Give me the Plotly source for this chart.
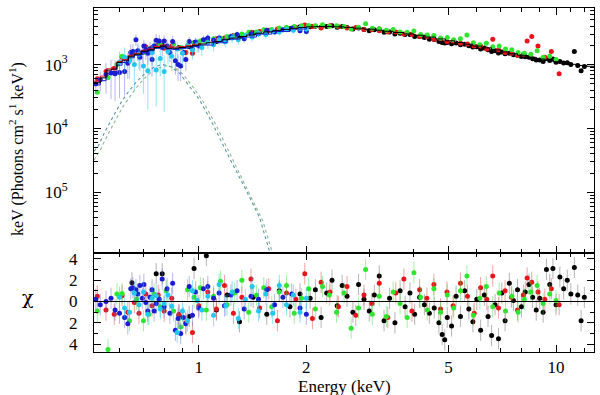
import plotly.graph_objects as go
from plotly.subplots import make_subplots

# Data (energies in keV, fluxes in units of 1e-3 photons cm^-2 s^-1 keV^-1) ########

black_E = [0.65, 0.76, 0.79, 0.88, 0.94, 0.97, 1.05, 1.12, 1.2, 1.3, 1.42, 1.55, 1.68, 1.8, 1.92,
           2.05, 2.12, 2.2, 2.28, 2.36, 2.44, 2.52, 2.6, 2.7, 2.8, 2.9,
           3.0, 3.1, 3.2, 3.3, 3.42, 3.54, 3.66, 3.78, 3.9,
           4.02, 4.15, 4.28, 4.42, 4.56, 4.7, 4.8, 4.88, 4.96,
           5.1, 5.25, 5.4, 5.55, 5.7, 5.85,
           6.0, 6.15, 6.3, 6.45, 6.6, 6.75, 6.9,
           7.05, 7.2, 7.4, 7.6, 7.8,
           8.0, 8.2, 8.4, 8.6, 8.8,
           9.0, 9.2, 9.4, 9.6, 9.8,
           10.0, 10.25, 10.5, 10.75, 11.0, 11.25, 11.5, 11.75, 12.0]
black_F = [1.50, 1.95, 2.00, 1.85, 1.90, 2.20, 2.45, 2.30, 2.65, 2.70, 3.15, 3.25, 3.60, 3.65, 3.90,
           3.90, 4.00, 3.85, 3.95, 4.05, 3.85, 3.95, 3.80, 3.60, 3.75, 3.55,
           3.40, 3.50, 3.60, 3.20, 3.25, 3.00, 3.10, 2.95, 2.95,
           2.75, 2.75, 2.65, 2.50, 2.48, 2.30, 2.22, 2.18, 2.22,
           2.12, 2.17, 2.05, 2.08, 1.98, 1.88,
           1.90, 1.75, 1.82, 1.70, 1.60, 1.64, 1.52,
           1.58, 1.48, 1.50, 1.42, 1.40,
           1.34, 1.33, 1.30, 1.23, 1.18,
           1.18, 1.12, 1.25, 1.16, 1.22,
           1.09, 1.12, 1.06, 1.07, 1.00, 1.60, 0.97, 0.80, 0.93]
black_chi = [1.75, 2.6, 2.6, -1.3, -1.4, 3.1, 4.3, -0.8, 0.6, -1.9, 0.4, -1.2, 1.0, -0.5, 0.7,
             0.3, 1.1, -1.5, 0.8, 2.0, -0.4, 1.5, 0.5, -1.0, 1.6, 0.2,
             -0.9, 0.6, 2.4, -1.8, 0.3, -2.0, 1.0, -0.5, 0.8,
             -1.2, 0.4, -0.3, -1.1, -0.6, -2.0, -3.1, -3.6, -1.5,
             -2.3, 0.5, -1.4, 1.0, -0.7, -1.9,
             0.2, -2.7, 0.6, -1.4, -3.2, -0.3, -3.5,
             0.8, -1.8, 1.7, 0.1, 1.1,
             -0.5, 0.9, 1.6, 0.4, -0.8,
             0.3, -1.0, 3.0, 1.6, 3.1,
             -0.3, 2.3, 1.2, 2.0, 0.7, 3.2, 0.6, -1.8, 0.4]

red_E = [0.52, 0.55, 0.58, 0.61, 0.633, 0.66, 0.68, 0.711, 0.74, 0.77,
         0.80, 0.84, 0.88, 0.92, 0.96, 1.0, 1.06, 1.12, 1.18, 1.25,
         1.32, 1.4, 1.48, 1.57, 1.66, 1.76, 1.87, 1.98, 2.08, 2.2,
         2.33, 2.46, 2.6, 2.75, 2.9, 3.05, 3.2, 3.38, 3.56, 3.75,
         3.95, 4.15, 4.35, 4.55, 4.75, 4.95, 5.15, 5.4, 5.65, 5.9,
         6.15, 6.4, 6.65, 6.9, 7.2, 7.5, 7.8, 8.1, 8.3, 8.55,
         8.9, 9.3, 9.7, 10.2]
red_F = [0.60, 0.78, 0.88, 1.30, 1.25, 1.55, 1.50, 1.90, 1.85, 2.00,
         1.80, 1.95, 1.80, 1.55, 1.50, 2.20, 2.30, 2.55, 2.60, 2.85,
         2.95, 3.20, 3.30, 3.45, 3.60, 3.75, 3.85, 4.15, 3.95, 3.75,
         4.05, 3.90, 3.75, 3.80, 3.55, 3.55, 3.40, 3.25, 3.25, 3.00,
         2.95, 2.75, 2.75, 2.50, 2.55, 2.30, 2.35, 2.15, 2.10, 1.95,
         1.95, 1.75, 2.50, 1.70, 1.55, 1.50, 1.40, 1.45, 2.35, 2.75,
         1.95, 1.30, 1.60, 0.72]
red_chi = [0.5, -0.8, -1.2, 0.55, -1.0, -0.1, -1.1, 0.7, -0.4, 0.6,
           -0.9, 0.3, -1.2, -2.0, -2.9, -0.4, 0.9, -0.7, 1.5, -1.1,
           0.4, 2.1, -0.6, 1.2, -1.8, 0.8, 0.2, 2.6, -1.6, 1.8,
           0.9, -0.5, 1.4, -1.3, 0.6, -0.2, 1.7, -1.5, 0.8, 2.1,
           -0.9, 1.1, 0.3, 1.6, -0.7, 0.9, -0.4, 1.7, 0.5, -1.1,
           1.3, 0.2, 2.4, -0.6, 1.0, 0.4, -0.8, 0.6, 2.2, 1.8,
           0.9, 0.2, 1.2, -0.3]

green_E = [0.52, 0.557, 0.59, 0.61, 0.64, 0.67, 0.70, 0.725, 0.75, 0.78,
           0.81, 0.85, 0.89, 0.93, 0.97, 1.01, 1.05, 1.1, 1.15, 1.2,
           1.26, 1.32, 1.38, 1.45, 1.52, 1.6, 1.68, 1.76, 1.85, 1.94,
           2.03, 2.12, 2.22, 2.32, 2.43, 2.55, 2.67, 2.8, 2.93, 3.06,
           3.2, 3.35, 3.5, 3.66, 3.83, 4.0, 4.18, 4.36, 4.55, 4.75,
           4.96, 5.17, 5.4, 5.63, 5.87, 6.12, 6.38, 6.65, 6.93, 7.22,
           7.52, 7.83, 8.15, 8.5, 8.85, 9.2, 9.6, 10.0]
green_F = [0.37, 0.62, 1.00, 1.35, 1.30, 1.60, 1.55, 1.75, 1.95, 2.05,
           1.90, 2.10, 1.85, 2.00, 2.15, 2.35, 2.30, 2.55, 2.60, 2.75,
           2.85, 3.00, 3.20, 3.25, 3.50, 3.55, 3.75, 3.85, 3.95, 4.05,
           4.10, 4.05, 4.20, 4.00, 4.05, 3.95, 3.60, 3.85, 4.35, 3.70,
           3.65, 3.45, 3.55, 3.25, 3.20, 3.35, 2.95, 2.90, 2.85, 2.60,
           2.65, 2.45, 2.55, 2.90, 2.20, 2.05, 2.15, 1.90, 1.95, 1.75,
           1.70, 1.55, 1.50, 1.45, 1.65, 1.30, 1.35, 1.20]
green_chi = [-0.9, -4.5, 0.7, 0.75, -1.8, 0.2, -1.8, -1.2, 0.7, -0.5,
             1.0, -0.9, -2.4, 1.1, 0.4, 1.3, -0.8, 0.5, 1.9, -0.3,
             0.8, 2.0, -1.0, 0.6, 1.3, -0.5, 0.9, 1.5, -1.1, 0.3,
             1.2, -0.7, 1.4, 0.6, -1.0, 0.8, -2.5, -0.6, 3.0, -1.2,
             0.5, -1.4, 0.9, -0.2, -1.5, 2.7, 0.4, -0.8, 1.2, -1.0,
             0.6, -0.6, 1.0, 2.4, -1.3, 0.3, 1.4, -0.5, 0.8, -0.9,
             0.5, -1.0, 0.2, 0.9, 1.5, -0.2, 0.7, 0.1]

blue_E = [0.515, 0.53, 0.55, 0.568, 0.583, 0.60, 0.62, 0.633, 0.645, 0.654,
          0.667, 0.675, 0.684, 0.695, 0.702, 0.711, 0.72, 0.73, 0.74, 0.75,
          0.76, 0.775, 0.79, 0.80, 0.815, 0.83, 0.845, 0.86, 0.875, 0.89,
          0.905, 0.92, 0.94, 0.96, 0.98, 1.0, 1.03, 1.06, 1.1, 1.14,
          1.18, 1.23, 1.28, 1.34, 1.4, 1.47, 1.55, 1.63, 1.72, 1.82,
          1.92, 2.0]
blue_F = [0.50, 0.58, 0.70, 0.74, 0.72, 0.75, 0.78, 1.05, 1.55, 1.60,
          2.45, 1.65, 1.30, 1.55, 1.95, 1.70, 1.50, 1.75, 1.20, 1.95,
          2.40, 2.35, 1.85, 2.35, 1.95, 1.55, 2.30, 1.15, 1.00, 0.95,
          1.55, 1.20, 2.30, 1.75, 2.25, 1.95, 2.45, 2.60, 2.40, 2.60,
          2.35, 2.75, 2.95, 2.55, 3.05, 3.05, 3.45, 3.25, 3.50, 3.70,
          3.40, 3.30]
blue_chi = [0.2, -0.3, 0.0, 0.3, -0.8, -1.1, -1.5, -2.1, 1.2, 1.3,
            1.1, 0.7, 1.5, 0.3, 1.6, -0.1, -0.9, 0.4, 1.1, -0.9,
            -0.2, 0.2, 2.1, -0.5, 1.2, -1.1, 1.7, -2.7, -1.6, -3.0,
            -1.5, -2.1, 1.4, -1.3, 0.9, -0.6, 1.2, 1.4, 0.3, 0.8,
            -0.4, 0.6, 1.0, -0.7, 0.5, 0.2, 1.1, -0.3, 0.4, 0.7,
            -0.6, -1.2]
blue_err = [0.15, 0.2, 0.35, 0.45, 0.45, 0.45, 0.45, 0.45, 0.5, 0.5,
            0.5, 0.5, 0.5, 0.5, 0.5, 0.5, 0.5, 0.5, 0.55, 0.55,
            0.6, 0.55, 0.5, 0.5, 0.5, 0.45, 0.5, 0.45, 0.45, 0.4,
            0.45, 0.4, 0.45, 0.4, 0.4, 0.4, 0.4, 0.4, 0.35, 0.35,
            0.35, 0.35, 0.35, 0.35, 0.35, 0.35, 0.35, 0.35, 0.35, 0.35,
            0.35, 0.35]

cyan_E = [0.60, 0.62, 0.64, 0.66, 0.68, 0.70, 0.72, 0.74, 0.76, 0.78,
          0.80, 0.82, 0.84, 0.87, 0.90, 0.93, 0.96, 0.99, 1.02, 1.06,
          1.10, 1.14, 1.19, 1.24, 1.29, 1.35, 1.41, 1.47, 1.54, 1.61,
          1.68, 1.76, 1.84, 1.92, 2.0]
cyan_F = [1.10, 1.30, 1.15, 1.00, 1.45, 0.95, 0.80, 1.55, 0.82, 1.25,
          0.78, 1.60, 1.35, 1.75, 1.50, 1.95, 1.70, 2.05, 1.85, 2.20,
          2.05, 2.45, 2.30, 2.60, 2.45, 2.85, 2.70, 3.10, 2.95, 3.35,
          3.25, 3.55, 3.45, 3.70, 3.60]
cyan_chi = [0.4, -0.6, -1.0, 0.8, -0.3, 0.9, -1.2, 0.3, 0.55, -0.7,
            -0.2, 0.6, -0.45, -2.9, -0.9, -1.8, 1.0, 0.1, -0.8, 0.5,
            -1.3, 1.6, -0.4, 0.9, -1.6, 0.2, 1.4, -0.9, 0.7, -1.1,
            1.5, -0.3, 0.6, -1.0, 0.3]
cyan_err = [0.5, 0.55, 0.55, 0.6, 0.6, 0.6, 0.6, 0.6, 0.6, 0.6,
            0.6, 0.6, 0.55, 0.55, 0.55, 0.5, 0.5, 0.5, 0.5, 0.45,
            0.45, 0.45, 0.45, 0.4, 0.4, 0.4, 0.4, 0.4, 0.4, 0.4,
            0.4, 0.4, 0.4, 0.4, 0.4]

# total model (step histogram)
model_E = [0.509, 0.53, 0.55, 0.57, 0.59, 0.61, 0.635, 0.66, 0.69, 0.72, 0.75, 0.78, 0.81,
           0.845, 0.88, 0.92, 0.96, 1.0, 1.05, 1.1, 1.16, 1.22, 1.29, 1.36, 1.44, 1.52,
           1.61, 1.7, 1.8, 1.9, 2.0, 2.12, 2.25, 2.4, 2.55, 2.7, 2.9, 3.1, 3.3, 3.5, 3.75,
           4.0, 4.3, 4.6, 4.9, 5.2, 5.5, 5.85, 6.2, 6.6, 7.0, 7.4, 7.8, 8.3, 8.8, 9.3, 9.8,
           10.4, 11.0, 11.6, 12.2, 12.77]
model_F = [0.52, 0.62, 0.82, 0.85, 1.08, 1.15, 1.35, 1.45, 1.62, 1.70, 1.85, 1.95, 1.80,
           1.80, 1.85, 1.90, 2.00, 2.10, 2.20, 2.30, 2.45, 2.60, 2.75, 2.90, 3.10, 3.25,
           3.40, 3.55, 3.70, 3.80, 3.90, 3.95, 3.95, 3.90, 3.82, 3.72, 3.58, 3.45, 3.32, 3.18, 3.02,
           2.88, 2.70, 2.52, 2.36, 2.22, 2.08, 1.95, 1.83, 1.70, 1.58, 1.48, 1.40, 1.30, 1.22, 1.16, 1.11,
           1.06, 1.01, 0.97, 0.94, 0.92]
blue_model_E = [0.509, 0.53, 0.55, 0.57, 0.59, 0.61, 0.635, 0.66, 0.69, 0.72, 0.75, 0.78, 0.81,
                0.845, 0.88, 0.92, 0.96, 1.0, 1.1, 1.2, 1.3, 1.45, 1.6, 1.8, 2.0]
blue_model_F = [0.48, 0.56, 0.72, 0.78, 0.98, 1.08, 1.28, 1.40, 1.55, 1.65, 1.80, 1.90, 1.75,
                1.72, 1.78, 1.82, 1.92, 2.02, 2.20, 2.50, 2.70, 3.00, 3.30, 3.60, 3.80]
red_model_E = [0.509, 0.53, 0.55, 0.57, 0.59, 0.61, 0.635, 0.66, 0.69, 0.72, 0.75, 0.78, 0.81,
               0.845, 0.88, 0.92, 0.96, 1.0]
red_model_F = [0.55, 0.66, 0.86, 0.90, 1.12, 1.20, 1.40, 1.50, 1.68, 1.76, 1.92, 2.02, 1.88,
               1.88, 1.92, 1.98, 2.08, 2.18]

# soft components (dotted)
comp1_E = [0.509, 0.522, 0.546, 0.571, 0.602, 0.634, 0.671, 0.711, 0.754, 0.793,
           0.835, 0.885, 0.944, 1.006, 1.094, 1.22, 1.36, 1.48, 1.58, 1.70]
comp1_F = [0.044, 0.052, 0.089, 0.141, 0.241, 0.369, 0.546, 0.75, 0.93, 1.0,
           0.93, 0.726, 0.457, 0.278, 0.118, 0.034, 0.0105, 0.004, 0.00116, 0.0003]
comp2_E = [0.509, 0.53, 0.555, 0.58, 0.61, 0.645, 0.68, 0.72, 0.765, 0.81,
           0.855, 0.905, 0.965, 1.03, 1.12, 1.25, 1.39, 1.51, 1.61, 1.72]
comp2_F = [0.032, 0.046, 0.078, 0.125, 0.21, 0.33, 0.49, 0.69, 0.87, 0.96,
           0.90, 0.70, 0.44, 0.26, 0.11, 0.031, 0.0095, 0.0036, 0.0011, 0.0003]

SCALE = 1e-3

fig = make_subplots(rows=2, cols=1, shared_xaxes=True, vertical_spacing=0,
                    row_heights=[0.711, 0.289])

def sc(vals):
    return [v * SCALE for v in vals]

# dotted components
fig.add_trace(go.Scatter(x=comp1_E, y=sc(comp1_F), mode='lines',
                         line=dict(color='#5b95b0', width=1.1, dash='dot')), row=1, col=1)
fig.add_trace(go.Scatter(x=comp2_E, y=sc(comp2_F), mode='lines',
                         line=dict(color='#8fb88f', width=1.1, dash='dot')), row=1, col=1)

series = [
    (black_E, black_F, black_chi, '#000000', 'rgba(120,120,120,0.55)', dict(type='percent', value=4)),
    (red_E, red_F, red_chi, '#e8141c', 'rgba(232,20,28,0.4)', dict(type='percent', value=7)),
    (green_E, green_F, green_chi, '#2ee62e', 'rgba(46,230,46,0.45)', dict(type='percent', value=7)),
    (blue_E, blue_F, blue_chi, '#1c1cd0', 'rgba(110,110,230,0.5)', dict(type='data', array=sc(blue_err))),
    (cyan_E, cyan_F, cyan_chi, '#22c8f0', 'rgba(34,200,240,0.5)', dict(type='data', array=sc(cyan_err))),
]

for E, F, chi, col, ecol, err in series:
    err = dict(err, color=ecol, thickness=1, width=0)
    fig.add_trace(go.Scatter(x=E, y=sc(F), mode='markers',
                             marker=dict(color=col, size=5),
                             error_y=err), row=1, col=1)
    fig.add_trace(go.Scatter(x=E, y=chi, mode='markers',
                             marker=dict(color=col, size=5),
                             error_y=dict(type='constant', value=1, color=ecol,
                                          thickness=1, width=0)), row=2, col=1)

# model steps
fig.add_trace(go.Scatter(x=red_model_E, y=sc(red_model_F), mode='lines', line_shape='hv',
                         line=dict(color='#e8141c', width=1)), row=1, col=1)
fig.add_trace(go.Scatter(x=blue_model_E, y=sc(blue_model_F), mode='lines', line_shape='hv',
                         line=dict(color='#1c1cd0', width=1)), row=1, col=1)
fig.add_trace(go.Scatter(x=model_E, y=sc(model_F), mode='lines', line_shape='hv',
                         line=dict(color='#000000', width=1)), row=1, col=1)

fig.add_hline(y=0, line=dict(color='black', width=1), row=2, col=1)

font = dict(family='Liberation Serif', size=17, color='black')

x_minor = [0.6, 0.7, 0.8, 0.9, 3, 4, 6, 7, 8, 9, 11, 12]
x_common = dict(type='log', range=[-0.2933, 1.1062], showline=True, linecolor='black',
                linewidth=1, mirror='ticks', ticks='inside', ticklen=7, tickcolor='black',
                showgrid=False, zeroline=False, tickvals=[1, 2, 5, 10],
                minor=dict(ticks='inside', ticklen=4, tickcolor='black', tickmode='array',
                           tickvals=x_minor, showgrid=False))
fig.update_xaxes(x_common)
fig.update_xaxes(showticklabels=False, row=1, col=1)
fig.update_xaxes(ticktext=['1', '2', '5', '10'], tickfont=font, ticklabelstandoff=0,
                 row=2, col=1)

y_minor = [m * 10 ** d for d in (-6, -5, -4, -3) for m in range(2, 10)]
fig.update_yaxes(type='log', range=[-5.943, -2.114], showline=True, linecolor='black',
                 linewidth=1, mirror='ticks', ticks='inside', ticklen=7, tickcolor='black',
                 showgrid=False, zeroline=False,
                 tickvals=[1e-5, 1e-4, 1e-3],
                 ticktext=['10<sup>5</sup>', '10<sup>4</sup>', '10<sup>3</sup>'],
                 tickfont=font, ticklabelstandoff=22,
                 minor=dict(ticks='inside', ticklen=4, tickcolor='black', tickmode='array',
                            tickvals=y_minor, showgrid=False),
                 row=1, col=1)
fig.update_yaxes(range=[-4.74, 4.59], showline=True, linecolor='black',
                 linewidth=1, mirror='ticks', ticks='inside', ticklen=7, tickcolor='black',
                 showgrid=False, zeroline=False,
                 tickvals=[-4, -2, 0, 2, 4], ticktext=['4', '2', '0', '2', '4'],
                 tickfont=font, ticklabelstandoff=12,
                 minor=dict(ticks='inside', ticklen=4, tickcolor='black', tickmode='array',
                            tickvals=[-3, -1, 1, 3], showgrid=False),
                 row=2, col=1)

fig.add_annotation(text='keV (Photons cm<sup>2</sup> s<sup>1</sup> keV<sup>1</sup>)',
                   xref='paper', yref='paper', x=-0.1537, y=0.5908, textangle=-90,
                   showarrow=False, xanchor='center', yanchor='middle',
                   font=dict(family='Liberation Serif', size=16, color='black'))
fig.add_annotation(text='χ', xref='paper', yref='paper', x=-0.1317, y=0.1585,
                   showarrow=False, xanchor='center', yanchor='middle',
                   font=dict(family='DejaVu Serif', size=19, color='black'))
fig.add_annotation(text='Energy (keV)', xref='paper', yref='paper', x=0.501, y=-0.1,
                   showarrow=False, xanchor='center', yanchor='middle', font=font)

fig.update_layout(width=600, height=395, margin=dict(l=94, r=5, t=5, b=43),
                  plot_bgcolor='white', paper_bgcolor='white', showlegend=False,
                  font=font)

fig.write_html("out.html", config={'displayModeBar': False},
               post_script="document.body.style.margin='0';document.body.style.overflow='hidden';")
